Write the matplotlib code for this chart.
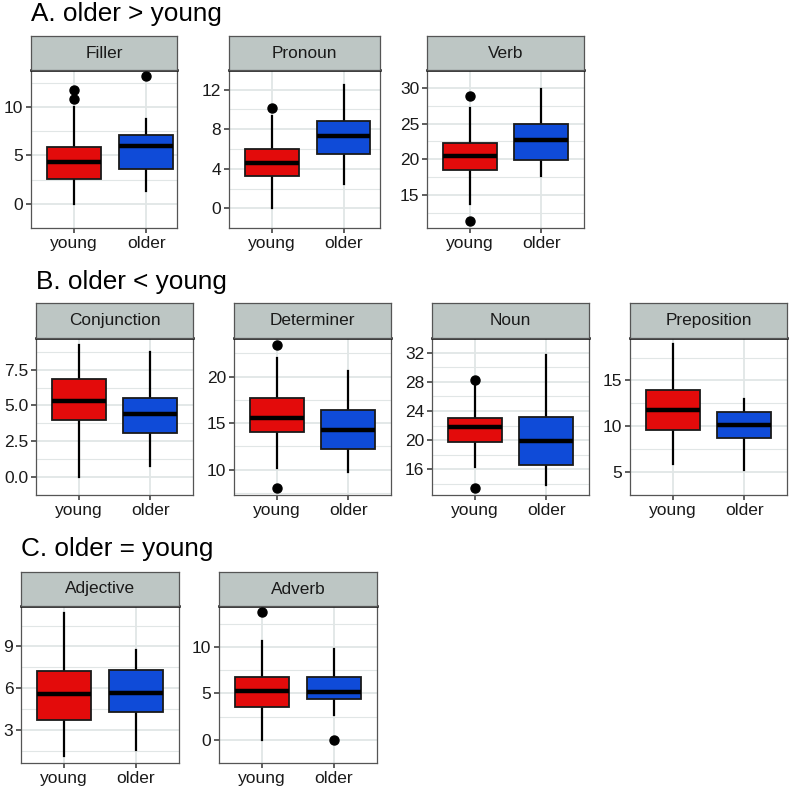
import numpy as np
import matplotlib
matplotlib.use("Agg")
import matplotlib.pyplot as plt

plt.rcParams['font.family'] = ['Liberation Sans', 'DejaVu Sans']

groups = ["young", "older"]
fill_colors = ["#E30B0B", "#0F4BD8"]

# box stats per panel: [young, older] -> (whislo, q1, med, q3, whishi)
filler = [(0.0, 2.6, 4.35, 5.87, 10.0), (1.28, 3.58, 5.96, 7.1, 8.78)]
filler_out = [[11.78, 10.86], [13.16]]
pronoun = [(0.0, 3.22, 4.55, 5.97, 9.33), (2.43, 5.48, 7.3, 8.84, 12.46)]
pronoun_out = [[10.14], []]
verb = [(13.75, 18.45, 20.47, 22.24, 27.24), (17.63, 19.83, 22.76, 25.0, 29.83)]
verb_out = [[28.92, 11.29], []]

conjunction = [(0.0, 3.99, 5.34, 6.83, 9.25), (0.8, 3.1, 4.42, 5.5, 8.73)]
conjunction_out = [[], []]
determiner = [(10.18, 14.04, 15.5, 17.68, 21.96), (9.75, 12.18, 14.29, 16.46, 20.6)]
determiner_out = [[23.39, 8.04], []]
noun = [(16.26, 19.74, 21.74, 23.1, 27.7), (13.91, 16.64, 19.87, 23.19, 31.66)]
noun_out = [[28.26, 13.4], []]
preposition = [(5.93, 9.55, 11.76, 13.91, 18.94), (5.19, 8.75, 10.16, 11.54, 13.01)]
preposition_out = [[], []]

adjective = [(1.13, 3.72, 5.59, 7.25, 11.4), (1.56, 4.32, 5.62, 7.3, 8.76)]
adjective_out = [[], []]
adverb = [(0.0, 3.58, 5.21, 6.74, 10.7), (2.65, 4.35, 5.14, 6.74, 9.84)]
adverb_out = [[13.74], [0.0]]

# y tick breaks per panel
filler_ticks = [0, 5, 10]
pronoun_ticks = [0, 4, 8, 12]
verb_ticks = [15, 20, 25, 30]
conjunction_ticks = [0, 2.5, 5, 7.5]
determiner_ticks = [10, 15, 20]
noun_ticks = [16, 20, 24, 28, 32]
preposition_ticks = [5, 10, 15]
adjective_ticks = [3, 6, 9]
adverb_ticks = [0, 5, 10]

W, H = 789, 791
fig = plt.figure(figsize=(W / 100, H / 100), dpi=100)

# (name, stats, outliers, ticks, tick fmt, x0, x1, strip_top, strip_bot, plot_bot, xmax)
panels = [
    ("Filler", filler, filler_out, filler_ticks, "{:g}", 31, 177, 36, 70, 228, 2.43),
    ("Pronoun", pronoun, pronoun_out, pronoun_ticks, "{:g}", 229, 380, 36, 70, 228, 2.51),
    ("Verb", verb, verb_out, verb_ticks, "{:g}", 427, 584, 36, 70, 228, 2.6),
    ("Conjunction", conjunction, conjunction_out, conjunction_ticks, "{:.1f}", 36, 193, 303, 338, 495, 2.6),
    ("Determiner", determiner, determiner_out, determiner_ticks, "{:g}", 234, 391, 303, 338, 495, 2.6),
    ("Noun", noun, noun_out, noun_ticks, "{:g}", 432, 589, 303, 338, 495, 2.6),
    ("Preposition", preposition, preposition_out, preposition_ticks, "{:g}", 630, 787, 303, 338, 495, 2.6),
    ("Adjective", adjective, adjective_out, adjective_ticks, "{:g}", 21, 179, 572, 606, 763, 2.6),
    ("Adverb", adverb, adverb_out, adverb_ticks, "{:g}", 219, 377, 572, 606, 763, 2.6),
]

for name, stats, outs, ticks, fmt, x0, x1, st, sb, pb, xmax in panels:
    ax = fig.add_axes([x0 / W, 1 - pb / H, (x1 - x0) / W, (pb - sb) / H])
    sax = fig.add_axes([x0 / W, 1 - sb / H, (x1 - x0) / W, (sb - st) / H])

    bstats = []
    for (lo, q1, med, q3, hi), fl in zip(stats, outs):
        bstats.append(dict(whislo=lo, q1=q1, med=med, q3=q3, whishi=hi, fliers=fl))
    bp = ax.bxp(bstats, positions=[1, 2], widths=0.75, patch_artist=True,
                showcaps=False, manage_ticks=False,
                boxprops=dict(edgecolor="#1a1a1a", linewidth=1.3),
                medianprops=dict(color="black", linewidth=3.2, solid_capstyle="butt"),
                whiskerprops=dict(color="black", linewidth=1.6),
                flierprops=dict(marker="o", markerfacecolor="black",
                                markeredgecolor="black", markersize=6.5))
    for patch, c in zip(bp["boxes"], fill_colors):
        patch.set_facecolor(c)
    for w in bp["whiskers"]:
        w.set_zorder(1.5)

    vals = []
    for s, fl in zip(stats, outs):
        vals += [s[0], s[4]] + list(fl)
    lo, hi = min(vals), max(vals)
    pad = (hi - lo) * 0.05
    ax.set_ylim(lo - pad, hi + pad)
    ax.set_xlim(0.4, xmax)

    step = ticks[1] - ticks[0]
    minor = np.arange(ticks[0] - step / 2, ticks[-1] + step, step)
    ax.set_yticks(ticks)
    ax.set_yticklabels([fmt.format(t) for t in ticks])
    ax.set_yticks(minor, minor=True)
    ax.set_xticks([1, 2])
    ax.set_xticklabels(groups)
    ax.tick_params(axis="both", which="major", length=3.5, width=1.1, color="#333333",
                   labelsize=12.5, labelcolor="#1a1a1a", pad=2)
    ax.tick_params(axis="y", which="minor", length=0)
    ax.grid(True, which="major", color="#E1E6E6", linewidth=1.3)
    ax.grid(True, which="minor", axis="y", color="#E1E6E6", linewidth=0.8)
    ax.set_axisbelow(True)
    for sp in ax.spines.values():
        sp.set_color("#555555")
        sp.set_linewidth(0.9)
    ax.spines["top"].set_color("black")
    ax.spines["top"].set_linewidth(1.8)

    sax.set_facecolor("#BDC6C4")
    sax.set_xticks([])
    sax.set_yticks([])
    for sp in sax.spines.values():
        sp.set_color("#555555")
        sp.set_linewidth(0.9)
    sax.text(0.5, 0.5, name, ha="center", va="center", fontsize=12.4,
             color="#1a1a1a", transform=sax.transAxes)

fig.text(31 / W, 1 - 21 / H, "A. older > young", fontsize=18.8, va="baseline")
fig.text(36 / W, 1 - 289 / H, "B. older < young", fontsize=18.8, va="baseline")
fig.text(21 / W, 1 - 556 / H, "C. older = young", fontsize=18.8, va="baseline")

fig.savefig("out.png", dpi=100)
